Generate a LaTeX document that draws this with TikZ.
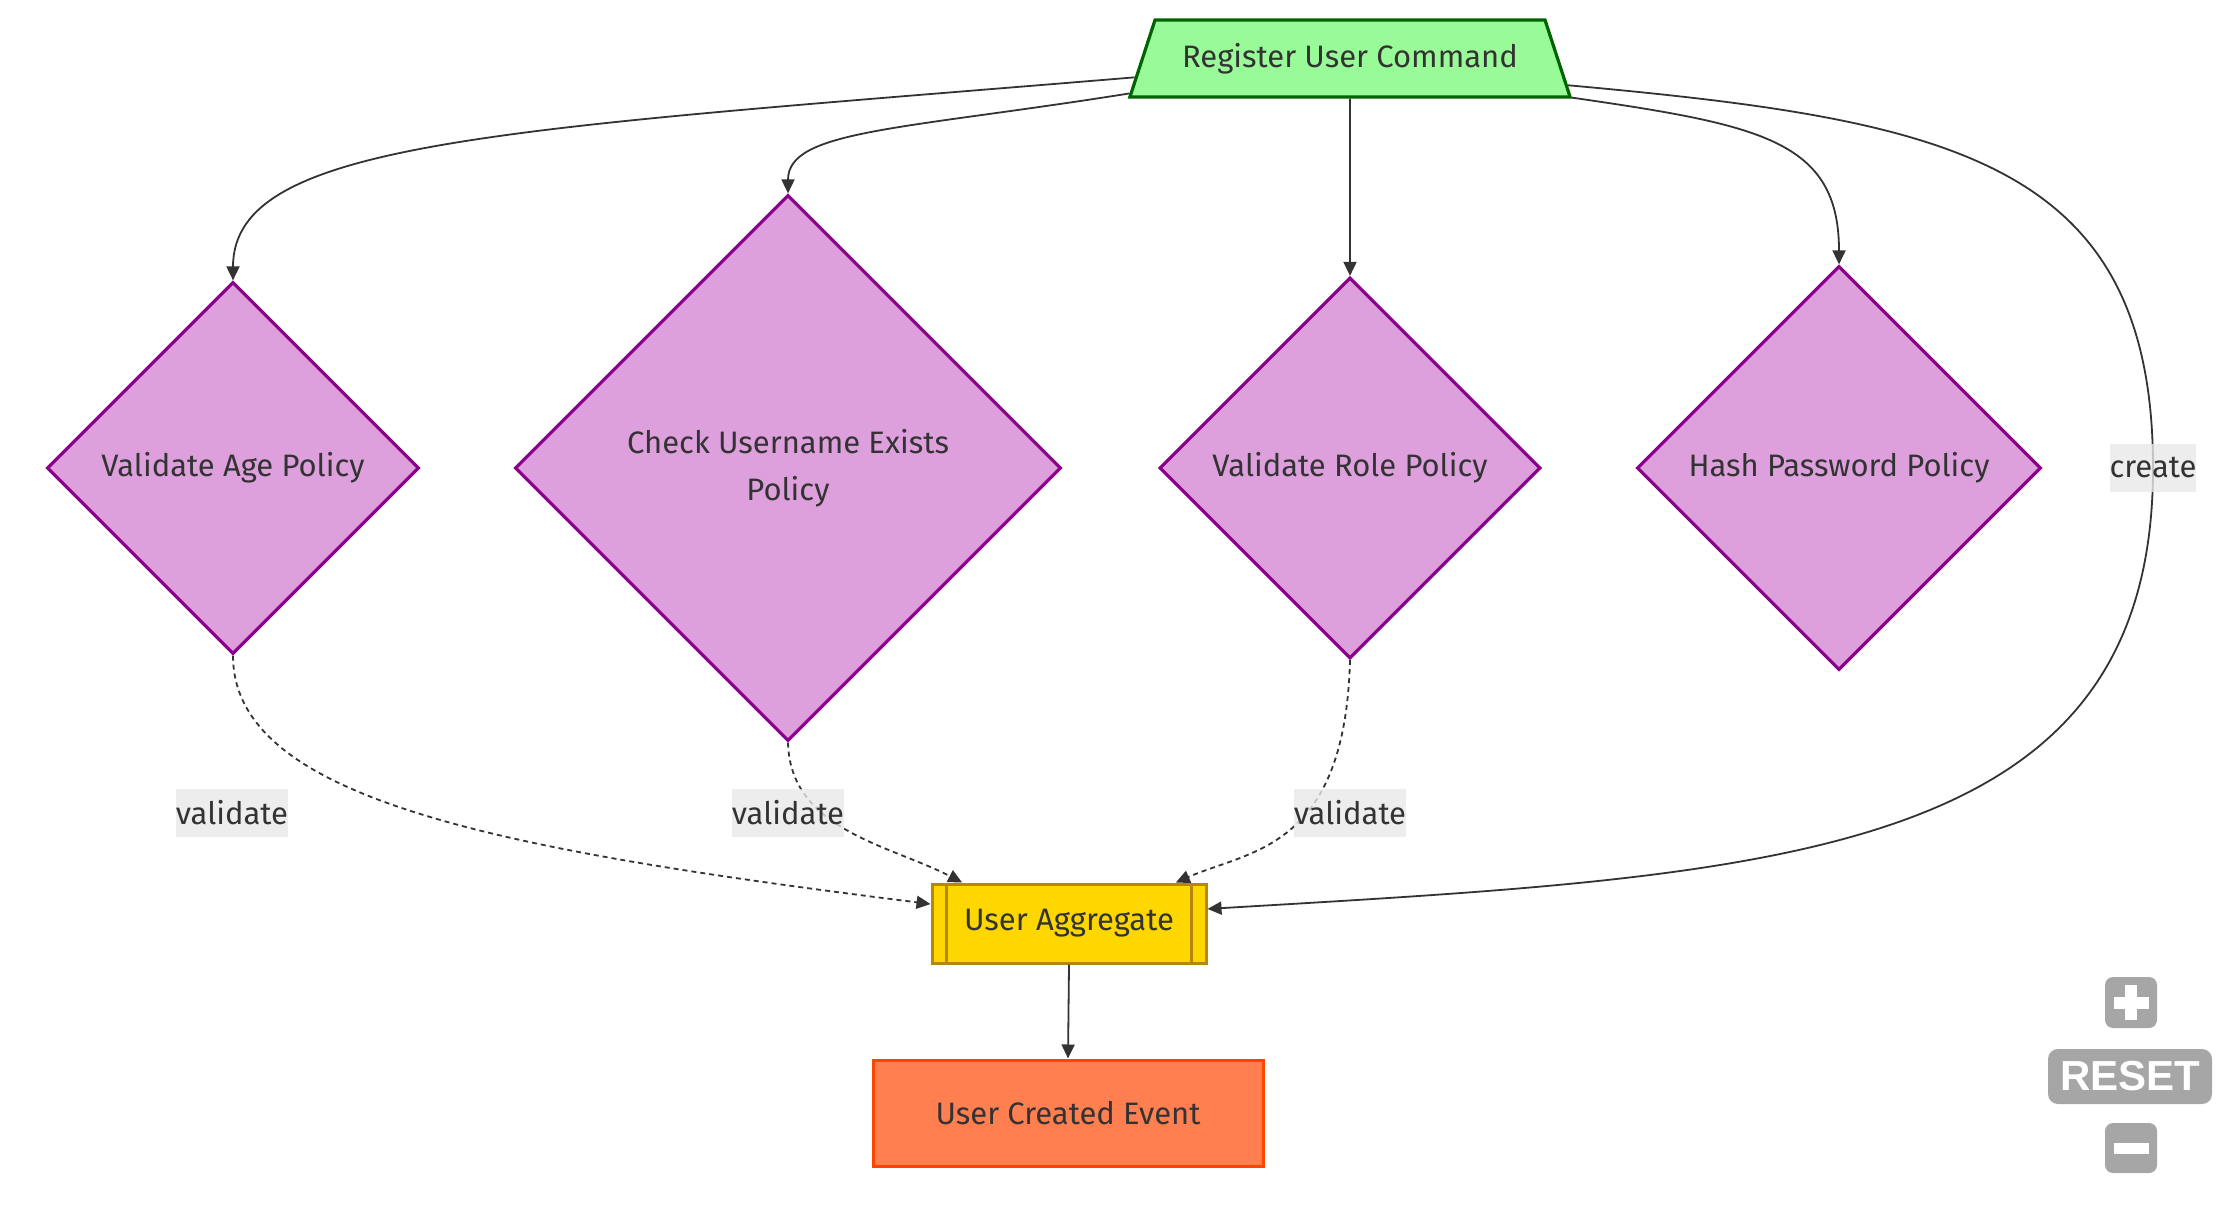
\documentclass[tikz,border=0pt]{standalone}
\usepackage{fontspec}
\setmainfont{Fira Sans}
\setsansfont{Liberation Sans}
\usetikzlibrary{shapes.geometric,arrows.meta}

\definecolor{cmdfill}{HTML}{98FB98}
\definecolor{cmdline}{HTML}{006400}
\definecolor{polfill}{HTML}{DDA0DD}
\definecolor{polline}{HTML}{8B008B}
\definecolor{aggfill}{HTML}{FFD700}
\definecolor{aggline}{HTML}{B8860B}
\definecolor{evtfill}{HTML}{FF7F50}
\definecolor{evtline}{HTML}{FF4500}
\definecolor{txt}{HTML}{333333}
\definecolor{lblfill}{HTML}{E8E8E8}
\definecolor{btn}{HTML}{A6A6A6}

\begin{document}
\begin{tikzpicture}[x=0.5pt, y=-0.5pt,
  every node/.style={font=\fontsize{15.5}{23.5}\selectfont, text=txt},
  cmdbox/.style={trapezium, trapezium stretches=true, trapezium left angle=63,
    trapezium right angle=63, minimum width=220.5pt, minimum height=38.5pt,
    draw=cmdline, fill=cmdfill, line width=1.6pt},
  policy/.style={diamond, aspect=1, inner sep=0pt, align=center,
    draw=polline, fill=polfill, line width=1.6pt},
  aggbox/.style={rectangle, minimum width=137pt, minimum height=39.5pt,
    draw=aggline, fill=aggfill, line width=1.5pt},
  evtbox/.style={rectangle, minimum width=195pt, minimum height=53pt,
    draw=evtline, fill=evtfill, line width=1.5pt},
  flow/.style={draw=txt, line width=0.9pt, -{Triangle[length=7pt,width=6.5pt]}},
  checkflow/.style={flow, dash pattern=on 2.5pt off 2pt},
  edgelabel/.style={fill=lblfill, fill opacity=0.8, text opacity=1,
    inner xsep=0pt, inner ysep=0pt, minimum height=24pt},
  ctrl/.style={fill=btn, rounded corners=4pt, inner sep=0pt}
]

% frame
\useasboundingbox (0,0) rectangle (2230,1213);

% command
\node[cmdbox] (cmd) at (1350,58.5) {Register User Command};

% policies
\node[policy, minimum size=186pt]   (age)   at (233,468)  {Validate Age Policy};
\node[policy, minimum size=273pt]   (check) at (788,468)  {Check Username Exists\\Policy};
\node[policy, minimum size=190.5pt] (role)  at (1350,468) {Validate Role Policy};
\node[policy, minimum size=202pt]   (hash)  at (1839,468) {Hash Password Policy};

% aggregate and event
\node[aggbox] (agg) at (1069,923.5) {User Aggregate};
\draw[aggline, line width=1.5pt] ([xshift=8pt]agg.north west) -- ([xshift=8pt]agg.south west);
\draw[aggline, line width=1.5pt] ([xshift=-8pt]agg.north east) -- ([xshift=-8pt]agg.south east);
\node[evtbox] (evt) at (1068,1113) {User Created Event};

% command to policies
\draw[flow] (cmd.185) .. controls (500,130) and (233,140) .. (age.north);
\draw[flow] (cmd.189) .. controls (900,130) and (788,130) .. (check.north);
\draw[flow] (cmd.south) -- (role.north);
\draw[flow] (cmd.350) .. controls (1760,125) and (1839,140) .. (hash.north);

% command to aggregate
\draw[flow] (cmd.353) .. controls (1950,120) and (2153,160) .. (2153,468)
  node[edgelabel] (lblcreate) {create}
  .. controls (2153,860) and (1780,875) .. (agg.6);

% policies to aggregate
\draw[checkflow] (age.south) .. controls (233,800) and (500,850) .. (agg.172);
\draw[checkflow] (check.south) .. controls (790,830) and (890,845) .. (agg.159);
\draw[checkflow] (role.south) .. controls (1345,850) and (1250,850) .. (agg.21);
\node[edgelabel] (lblage)   at (232,813)  {validate};
\node[edgelabel] (lblcheck) at (788,813)  {validate};
\node[edgelabel] (lblrole)  at (1350,813) {validate};

% aggregate to event
\draw[flow] (agg.south) -- (evt.north);

% zoom controls
\node[ctrl, minimum width=26pt, minimum height=25.5pt] (zoomin) at (2131,1002.5) {};
\draw[white, line width=6pt] ([xshift=-8.75pt]zoomin.center) -- ([xshift=8.75pt]zoomin.center);
\draw[white, line width=6pt] ([yshift=-8.75pt]zoomin.center) -- ([yshift=8.75pt]zoomin.center);
\node[ctrl, rounded corners=5pt, minimum width=82pt, minimum height=27.5pt, text=white,
  font=\sffamily\bfseries\fontsize{21}{21}\selectfont] (reset) at (2130,1076.5) {RESET};
\node[ctrl, minimum width=26pt, minimum height=25pt] (zoomout) at (2131,1148) {};
\draw[white, line width=5.5pt] ([xshift=-8.75pt]zoomout.center) -- ([xshift=8.75pt]zoomout.center);

\end{tikzpicture}
\end{document}
